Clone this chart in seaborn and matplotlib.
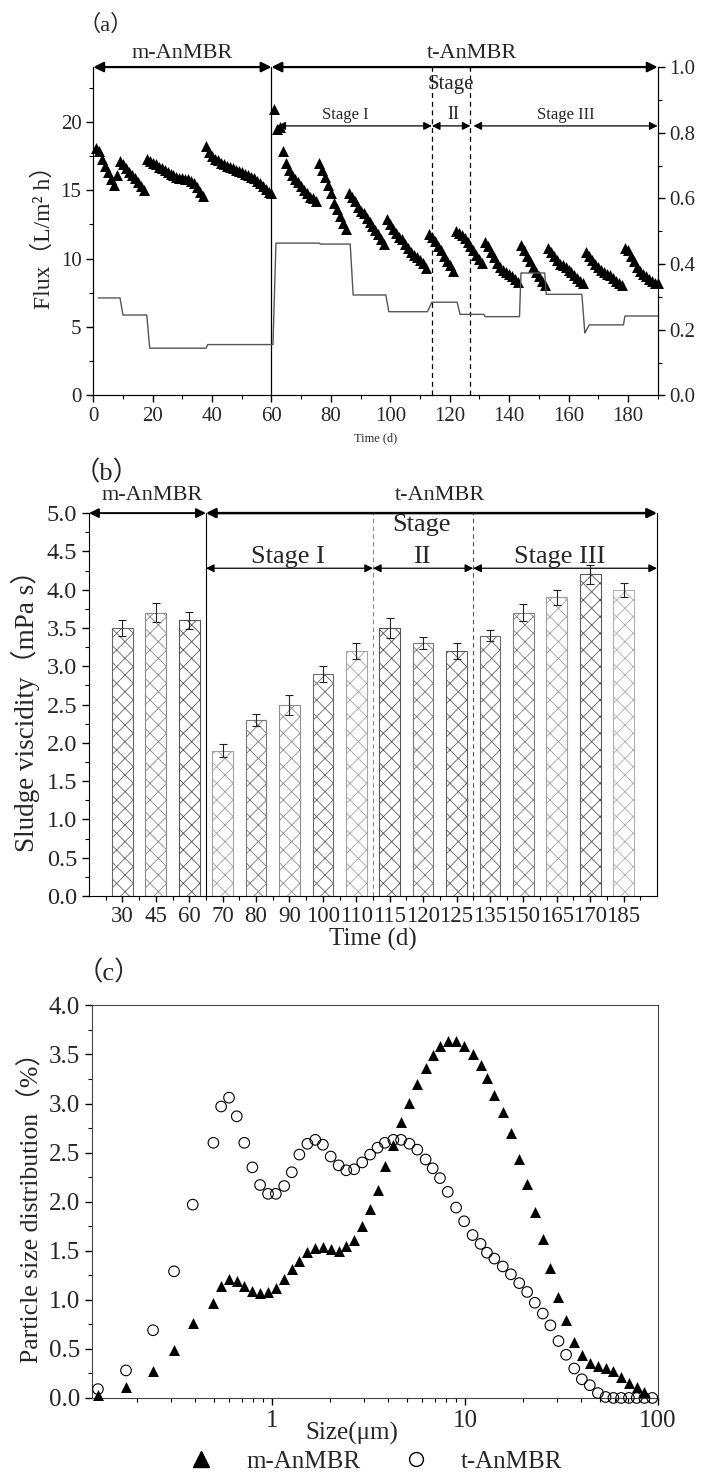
import matplotlib
matplotlib.use('Agg')
import numpy as np
import matplotlib.pyplot as plt
import seaborn as sns
from matplotlib.lines import Line2D
from matplotlib.ticker import MultipleLocator, FixedLocator, LogLocator, NullFormatter, FormatStrFormatter

# ---- (a) flux and the step line on the right axis ----
flux_day = list(range(1, 191))
flux_value = [18.1, 17.9, 17.3, 16.8, 16.3, 15.8, 15.4,
              16.1, 17.1, 16.9, 16.6, 16.3, 16.1, 15.9, 15.6, 15.3, 15.0,
              17.3, 17.1, 17.0, 16.9, 16.7, 16.6, 16.5, 16.3, 16.2, 16.1,
              16.0, 15.9, 15.9, 15.8, 15.8, 15.7, 15.5, 15.2, 14.9, 14.6,
              18.2, 17.8, 17.5, 17.3, 17.2, 17.0, 16.9, 16.8, 16.7, 16.6, 16.5, 16.4,
              16.3, 16.2, 16.1, 16.0, 15.9, 15.7, 15.5, 15.3, 15.1, 14.9, 14.8,
              20.9, 19.5, 19.6, 17.9, 17.0, 16.5, 16.1, 15.8, 15.6, 15.3, 15.0, 14.8, 14.5, 14.4, 14.2,
              17.0, 16.5, 16.0, 15.4, 14.8, 14.1, 13.6, 13.1, 12.6, 12.2,
              14.8, 14.5, 14.2, 13.8, 13.5, 13.3, 13.0, 12.7, 12.4, 12.1, 11.8, 11.4, 11.1,
              12.9, 12.5, 12.2, 11.9, 11.6, 11.4, 11.1, 10.8, 10.5, 10.3, 10.1, 9.9, 9.7, 9.3,
              11.8, 11.6, 11.3, 10.9, 10.6, 10.2, 9.8, 9.5, 9.1,
              12.0, 11.9, 11.7, 11.5, 11.2, 10.9, 10.6, 10.3, 10.0, 9.7,
              11.2, 10.9, 10.5, 10.1, 9.7, 9.4, 9.2, 9.0, 8.9, 8.7, 8.5, 8.3,
              11.0, 10.6, 10.2, 9.8, 9.4, 9.0, 8.7, 8.4, 8.1,
              10.8, 10.5, 10.2, 9.9, 9.6, 9.5, 9.4, 9.2, 9.0, 8.8, 8.6, 8.4, 8.2,
              10.5, 10.2, 9.9, 9.6, 9.4, 9.2, 9.0, 8.9, 8.8, 8.6, 8.4, 8.2, 8.1,
              10.8, 10.6, 10.2, 9.8, 9.4, 9.1, 8.9, 8.7, 8.5, 8.4, 8.2, 8.2]

step_day = [1.7, 9, 10, 18, 19, 38, 38.5, 60.5, 61.5, 76, 76.5, 86.5, 87.5, 98.5, 99.5,
            112.5, 114, 122.5, 123.5, 131.5, 132, 143.5, 144, 152, 152.5, 164.5, 165.5,
            167, 178.5, 179, 190]
step_value = [0.297, 0.297, 0.245, 0.245, 0.144, 0.144, 0.155, 0.155, 0.464, 0.464, 0.461,
              0.461, 0.306, 0.306, 0.255, 0.255, 0.284, 0.284, 0.247, 0.247, 0.240, 0.240,
              0.373, 0.373, 0.308, 0.308, 0.190, 0.215, 0.215, 0.242, 0.242]

# ---- (b) sludge viscosity ----
visc_day = ['30', '45', '60', '70', '80', '90', '100', '110', '115', '120', '125',
            '135', '150', '165', '170', '185']
visc_mean = [3.5, 3.7, 3.6, 1.9, 2.3, 2.5, 2.9, 3.2, 3.5, 3.3, 3.2, 3.4, 3.7, 3.9, 4.2, 4.0]
visc_err = [0.10, 0.12, 0.11, 0.09, 0.08, 0.13, 0.11, 0.10, 0.13, 0.08, 0.10, 0.07, 0.11,
            0.10, 0.12, 0.09]

# ---- (c) particle size distribution ----
psd_size = [0.126, 0.176, 0.243, 0.312, 0.390, 0.499, 0.547, 0.601, 0.659, 0.721,
            0.794, 0.870, 0.957, 1.05, 1.16, 1.27, 1.39, 1.53, 1.68, 1.84,
            2.02, 2.22, 2.43, 2.67, 2.94, 3.23, 3.53, 3.85, 4.26, 4.67,
            5.16, 5.67, 6.26, 6.81, 7.43, 8.15, 9.00, 9.90, 10.96, 12.05,
            13.0, 14.2, 15.7, 17.3, 19.1, 21.0, 23.0, 25.3, 27.7, 30.5,
            33.4, 36.8, 40.3, 44.3, 48.8, 53.5, 58.7, 64.4, 70.6, 77.5, 85.0, 93.3]
psd_m = [0.03, 0.11, 0.27, 0.49, 0.76, 0.97, 1.14, 1.21, 1.19, 1.14,
         1.09, 1.07, 1.08, 1.12, 1.21, 1.31, 1.40, 1.49, 1.53, 1.54,
         1.52, 1.50, 1.55, 1.61, 1.75, 1.93, 2.12, 2.36, 2.58, 2.81,
         3.01, 3.20, 3.36, 3.49, 3.59, 3.64, 3.64, 3.59, 3.50, 3.39,
         3.26, 3.09, 2.91, 2.70, 2.44, 2.18, 1.89, 1.62, 1.32, 1.03,
         0.79, 0.57, 0.44, 0.36, 0.33, 0.31, 0.27, 0.21, 0.15, 0.11, 0.06]
psd_t = [0.09, 0.28, 0.69, 1.29, 1.97, 2.60, 2.97, 3.06, 2.87, 2.60,
         2.35, 2.17, 2.08, 2.08, 2.16, 2.30, 2.48, 2.59, 2.63, 2.58,
         2.46, 2.37, 2.32, 2.33, 2.40, 2.48, 2.55, 2.60, 2.63, 2.63,
         2.59, 2.53, 2.43, 2.34, 2.24, 2.10, 1.94, 1.80, 1.66, 1.57,
         1.48, 1.42, 1.34, 1.26, 1.17, 1.08, 0.97, 0.86, 0.74, 0.58,
         0.44, 0.30, 0.19, 0.13, 0.05, 0.01, 0.0, 0.0, 0.0, 0.0, 0.0, 0.0]

bar_hatch_color = ['#666666', '#8a8a8a', '#555555', '#a0a0a0', '#777777', '#909090',
                   '#6a6a6a', '#a5a5a5', '#555555', '#7a7a7a', '#606060', '#6a6a6a',
                   '#808080', '#a0a0a0', '#5a5a5a', '#b0b0b0']

sns.set_style('ticks')
plt.rcParams['font.family'] = ['Liberation Serif', 'Noto Sans CJK SC']
plt.rcParams['hatch.linewidth'] = 0.6
plt.rcParams['axes.edgecolor'] = 'black'


def span_arrow(ax, x0, x1, y, lw=1.0, head=12):
    ax.annotate('', xy=(x1, y), xytext=(x0, y),
                arrowprops=dict(arrowstyle='<|-|>', color='black', lw=lw,
                                shrinkA=0, shrinkB=0, mutation_scale=head),
                annotation_clip=False)


def style_ticks(ax, size):
    ax.tick_params(which='major', direction='out', length=5, width=1, labelsize=size, color='black')
    ax.tick_params(which='minor', direction='out', length=3, width=0.8, color='black')


fig = plt.figure(figsize=(7.04, 14.74), dpi=100)

# ---------------- (a) ----------------
ax_a = fig.add_axes([0.1325, 0.7317, 0.8016, 0.2228])
sns.scatterplot(x=flux_day, y=flux_value, marker='^', color='black', s=62, linewidth=0,
                ax=ax_a, clip_on=False, zorder=3)
ax_a.set_xlim(0, 190)
ax_a.set_ylim(0, 24)
ax_a.xaxis.set_major_locator(MultipleLocator(20))
ax_a.xaxis.set_minor_locator(MultipleLocator(10))
ax_a.yaxis.set_major_locator(MultipleLocator(5))
ax_a.yaxis.set_minor_locator(MultipleLocator(2.5))
style_ticks(ax_a, 15)
ax_a.set_xlabel('Time (d)', fontsize=9, labelpad=4)
ax_a.set_ylabel('Flux（L/m² h）', fontsize=17, labelpad=4)
ax_a.spines['top'].set_visible(False)

ax_r = ax_a.twinx()
sns.lineplot(x=step_day, y=step_value, sort=False, color='#555555', lw=1.0, ax=ax_r)
ax_r.set_ylim(0, 1)
ax_r.yaxis.set_major_locator(MultipleLocator(0.2))
ax_r.yaxis.set_minor_locator(MultipleLocator(0.1))
ax_r.yaxis.set_major_formatter(FormatStrFormatter('%.1f'))
style_ticks(ax_r, 15)
ax_r.set_ylabel('')
ax_r.spines['top'].set_visible(False)

ax_a.axvline(60, color='black', lw=0.9)
ax_a.axvline(114, color='black', lw=0.9, ls=(0, (4, 3)))
ax_a.axvline(127, color='black', lw=0.9, ls=(0, (4, 3)))
span_arrow(ax_a, 0, 60, 24, lw=1.6, head=15)
span_arrow(ax_a, 60, 190, 24, lw=1.6, head=15)
span_arrow(ax_a, 62, 114, 19.7, lw=0.9, head=12)
span_arrow(ax_a, 114, 127, 19.7, lw=0.9, head=12)
span_arrow(ax_a, 128, 190, 19.7, lw=0.9, head=12)
ax_a.text(30, 25.0, 'm-AnMBR', ha='center', va='center', fontsize=16)
ax_a.text(127.4, 25.0, 't-AnMBR', ha='center', va='center', fontsize=16)
ax_a.text(85, 20.5, 'Stage I', ha='center', va='center', fontsize=12)
ax_a.text(120.3, 22.7, 'Stage', ha='center', va='center', fontsize=15)
ax_a.text(121.2, 20.5, 'II', ha='center', va='center', fontsize=13)
ax_a.text(159.2, 20.5, 'Stage III', ha='center', va='center', fontsize=12)
fig.text(0.150, 0.983, '（a）', ha='center', va='center', fontsize=16)

# ---------------- (b) ----------------
ax_b = fig.add_axes([0.1264, 0.3921, 0.8068, 0.2598])
sns.barplot(x=visc_day, y=visc_mean, order=visc_day, color='white', width=0.62,
            edgecolor='#777777', linewidth=0.8, errorbar=None, ax=ax_b)
for patch, hc in zip(ax_b.patches, bar_hatch_color):
    patch.set_facecolor('white')
    patch.set_hatch('xx')
    patch.set_edgecolor(hc)
ax_b.errorbar(range(len(visc_day)), visc_mean, yerr=visc_err, fmt='none', ecolor='#222222',
              elinewidth=0.8, capsize=3, capthick=0.8, zorder=4)
ax_b.set_xlim(-1, 16)
ax_b.set_ylim(0, 5)
ax_b.yaxis.set_major_locator(MultipleLocator(0.5))
ax_b.yaxis.set_minor_locator(MultipleLocator(0.25))
ax_b.yaxis.set_major_formatter(FormatStrFormatter('%.1f'))
ax_b.xaxis.set_minor_locator(FixedLocator(np.arange(-0.5, 16, 1)))
style_ticks(ax_b, 17.5)
ax_b.tick_params(axis='x', which='major', length=4, pad=3, labelsize=16.5)
ax_b.set_xlabel('Time (d)', fontsize=18, labelpad=1)
ax_b.set_ylabel('Sludge viscidity（mPa s）', fontsize=19.5, labelpad=5)
ax_b.spines['top'].set_visible(False)
ax_b.axvline(2.5, color='black', lw=0.8)
ax_b.axvline(7.5, color='#888888', lw=0.8, ls=(0, (4, 3)))
ax_b.axvline(10.5, color='#555555', lw=0.8, ls=(0, (4, 3)))
span_arrow(ax_b, -1, 2.5, 5.0, lw=1.4, head=14)
span_arrow(ax_b, 2.5, 16, 5.0, lw=1.8, head=14)
span_arrow(ax_b, 2.5, 7.5, 4.28, lw=0.9, head=12)
span_arrow(ax_b, 7.5, 10.5, 4.28, lw=0.9, head=12)
span_arrow(ax_b, 10.5, 16, 4.28, lw=0.9, head=12)
ax_b.text(0.9, 5.23, 'm-AnMBR', ha='center', va='center', fontsize=16)
ax_b.text(9.5, 5.23, 't-AnMBR', ha='center', va='center', fontsize=16)
ax_b.text(4.94, 4.43, 'Stage I', ha='center', va='center', fontsize=19)
ax_b.text(8.95, 4.84, 'Stage', ha='center', va='center', fontsize=19)
ax_b.text(8.97, 4.43, 'II', ha='center', va='center', fontsize=19)
ax_b.text(13.08, 4.43, 'Stage III', ha='center', va='center', fontsize=19)
fig.text(0.152, 0.679, '（b）', ha='center', va='center', fontsize=19)

# ---------------- (c) ----------------
ax_c = fig.add_axes([0.1303, 0.0516, 0.8045, 0.2663])
sns.scatterplot(x=psd_size[:len(psd_m)], y=psd_m, marker='^', color='black', s=62,
                linewidth=0, ax=ax_c, clip_on=False, zorder=3)
sns.scatterplot(x=psd_size, y=psd_t, marker='o', color='black', s=58, ax=ax_c,
                clip_on=False, zorder=4)
circles = ax_c.collections[-1]
circles.set_facecolor('none')
circles.set_edgecolor('black')
circles.set_linewidth(0.8)
ax_c.set_xscale('log')
ax_c.set_xlim(0.117, 100)
ax_c.set_ylim(0, 4)
ax_c.xaxis.set_major_locator(FixedLocator([1, 10, 100]))
ax_c.set_xticklabels(['1', '10', '100'])
ax_c.xaxis.set_minor_locator(LogLocator(base=10, subs=np.arange(2, 10)))
ax_c.xaxis.set_minor_formatter(NullFormatter())
ax_c.yaxis.set_major_locator(MultipleLocator(0.5))
ax_c.yaxis.set_minor_locator(MultipleLocator(0.25))
ax_c.yaxis.set_major_formatter(FormatStrFormatter('%.1f'))
style_ticks(ax_c, 18)
for sp in ax_c.spines.values():
    sp.set_color('#444444')
ax_c.set_xlabel('Size(μm)', fontsize=18)
ax_c.xaxis.set_label_coords(0.46, -0.06)
ax_c.set_ylabel('Particle size distribution（%）', fontsize=18.5, labelpad=4)
handles = [Line2D([], [], marker='^', color='black', ls='', markersize=11, label='m-AnMBR'),
           Line2D([], [], marker='o', mfc='none', mec='black', ls='', markersize=10, label='t-AnMBR')]
ax_c.legend(handles=handles, loc='center', bbox_to_anchor=(0.49, -0.163), ncol=2,
            frameon=False, fontsize=18, columnspacing=1.2, handletextpad=0.8)
fig.text(0.155, 0.34, '（c）', ha='center', va='center', fontsize=19)

fig.savefig('out.png', dpi=100)
